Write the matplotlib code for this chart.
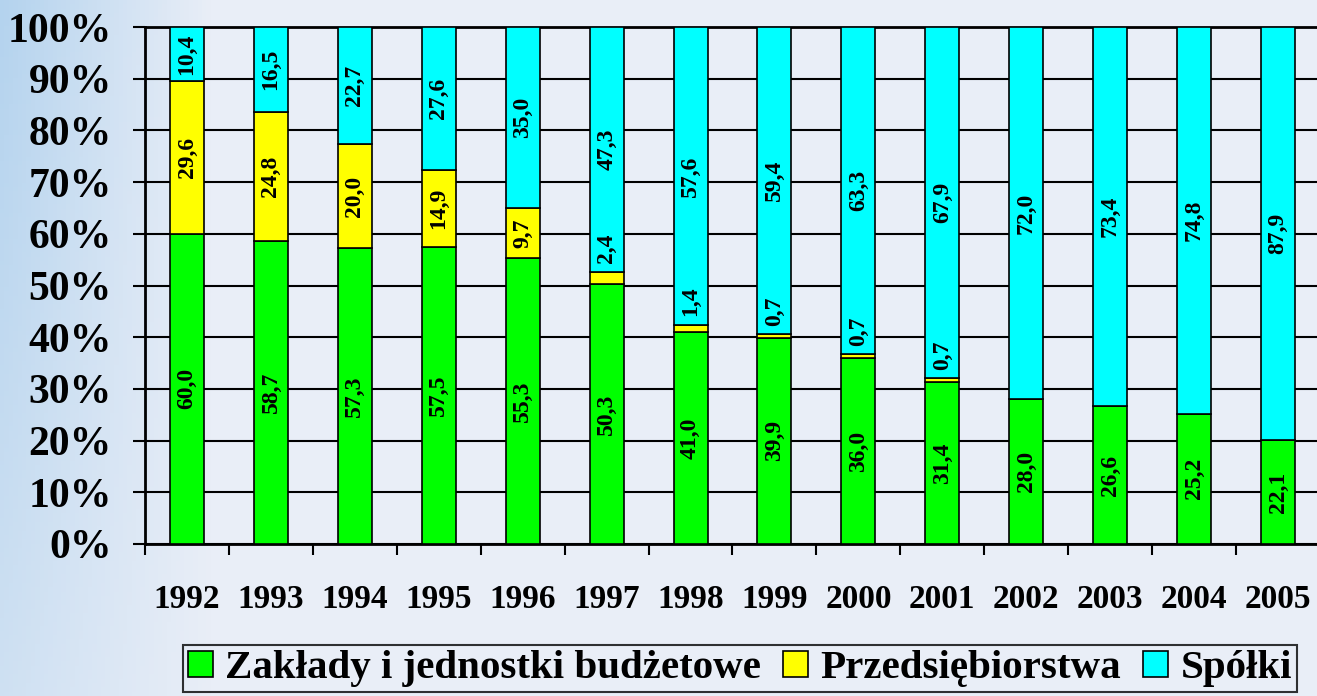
import numpy as np
import matplotlib
matplotlib.use("Agg")
import matplotlib.pyplot as plt
from matplotlib.patches import Patch
from matplotlib.colors import LinearSegmentedColormap

plt.rcParams['font.family'] = ['Liberation Serif', 'DejaVu Serif']
plt.rcParams['font.weight'] = 'bold'

# --- data ---
years = ['1992', '1993', '1994', '1995', '1996', '1997', '1998',
         '1999', '2000', '2001', '2002', '2003', '2004', '2005']
zaklady = [60.0, 58.7, 57.3, 57.5, 55.3, 50.3, 41.0, 39.9, 36.0, 31.4, 28.0, 26.6, 25.2, 22.1]
przeds = [29.6, 24.8, 20.0, 14.9, 9.7, 2.4, 1.4, 0.7, 0.7, 0.7, 0.0, 0.0, 0.0, 0.0]
spolki = [10.4, 16.5, 22.7, 27.6, 35.0, 47.3, 57.6, 59.4, 63.3, 67.9, 72.0, 73.4, 74.8, 87.9]
series_names = ['Zakłady i jednostki budżetowe', 'Przedsiębiorstwa', 'Spółki']
colors = ['#00FF00', '#FFFF00', '#00FFFF']

raw = np.array([zaklady, przeds, spolki])
share = raw / raw.sum(axis=0) * 100  # 100% stacked

fig = plt.figure(figsize=(13.17, 6.96), dpi=100)
fig.patch.set_facecolor('#E9EEF7')

# soft background wash, bluish on the left
bg = fig.add_axes([0, 0, 1, 1], zorder=-5)
gx, gy = np.meshgrid(np.linspace(0, 1, 300), np.linspace(0, 1, 160))
wash = np.clip(1 - gx / 0.16, 0, 1) * (0.5 + 0.5 * gy[::-1])
cmap_bg = LinearSegmentedColormap.from_list('bg', ['#E9EEF7', '#B4D3EE'])
bg.imshow(wash, cmap=cmap_bg, aspect='auto', extent=[0, 1, 0, 1], vmin=0, vmax=1)
bg.axis('off')

ax = fig.add_axes([145 / 1317, 1 - 544 / 696, 1175 / 1317, 517 / 696])
ax.patch.set_alpha(0)

x = np.arange(len(years))
bottom = np.zeros(len(years))
for vals, sh, col in zip(raw, share, colors):
    ax.bar(x, sh, bottom=bottom, width=0.405, color=col, edgecolor='black',
           linewidth=1.2, zorder=3)
    for i in range(len(years)):
        if vals[i] <= 0:
            continue
        txt = f'{vals[i]:.1f}'.replace('.', ',')
        if sh[i] < 5:
            ax.annotate(txt, (x[i], bottom[i] + sh[i]), xytext=(0, 6),
                        textcoords='offset points', rotation=90,
                        ha='center', va='bottom', fontsize=17,
                        fontweight='bold', zorder=4)
        else:
            ax.text(x[i], bottom[i] + sh[i] / 2, txt, rotation=90,
                    ha='center', va='center', fontsize=17,
                    fontweight='bold', zorder=4)
    bottom += sh

ax.set_xlim(-0.5, len(years) - 0.5)
ax.set_ylim(0, 100)
ax.set_yticks(np.arange(0, 101, 10))
ax.set_yticklabels([f'{v}%' for v in range(0, 101, 10)], fontsize=30,
                   fontweight='bold')
ax.tick_params(axis='y', length=9, width=1.5, pad=15, color='black')
ax.yaxis.grid(True, color='black', linewidth=1.5, zorder=1)
ax.set_axisbelow(True)

ax.set_xticks(x)
ax.set_xticklabels(years, fontsize=24, fontweight='bold')
ax.set_xticks(np.arange(-0.5, len(years), 1), minor=True)
ax.tick_params(axis='x', which='major', length=0, pad=29)
ax.tick_params(axis='x', which='minor', length=8, width=1.5, color='black')

for s in ['left', 'bottom', 'top']:
    ax.spines[s].set_linewidth(2)
    ax.spines[s].set_color('black')
ax.spines['right'].set_visible(False)

handles = [Patch(facecolor=c, edgecolor='black', linewidth=1.2) for c in colors]
leg = fig.legend(handles, series_names, loc='lower center', ncol=3,
                 bbox_to_anchor=(740 / 1317, 0.0), frameon=True,
                 prop={'family': 'Liberation Serif', 'weight': 'bold', 'size': 29.5},
                 handlelength=0.6, handleheight=0.6, handletextpad=0.3,
                 columnspacing=0.55, borderpad=0.12, borderaxespad=0.1,
                 fancybox=False)
leg.get_frame().set_edgecolor('black')
leg.get_frame().set_linewidth(1.5)
leg.get_frame().set_facecolor('none')

plt.savefig('out.png', dpi=100)
plt.close()
